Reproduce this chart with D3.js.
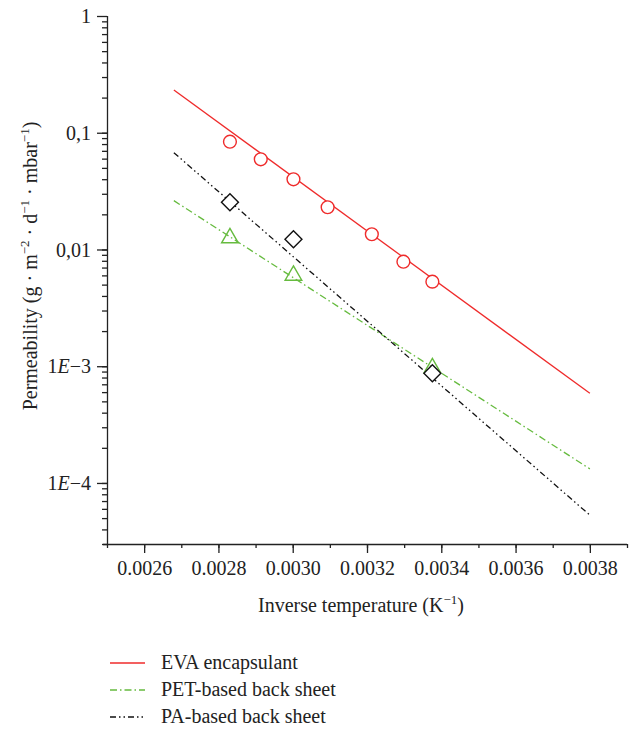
<!DOCTYPE html>
<html>
<head>
<meta charset="utf-8">
<script src="https://cdn.jsdelivr.net/npm/d3@7"></script>
<style>
  html, body { margin: 0; padding: 0; background: #fff; }
  svg text { font-family: "Liberation Serif", "DejaVu Serif", serif; fill: #222; }
</style>
</head>
<body>
<svg id="chart" width="632" height="729"></svg>
<script>
// Measured points (inverse temperature in 1/K, permeability in g·m^-2·d^-1·mbar^-1)
const evaX = [0.002831, 0.002914, 0.003002, 0.003094, 0.003213, 0.003298, 0.003376];
const evaP = [0.0838, 0.0592, 0.0399, 0.0230, 0.0135, 0.00786, 0.00530];
const petX = [0.002831, 0.003002, 0.003376];
const petP = [0.01254, 0.00599, 0.000965];
const paX  = [0.002831, 0.003002, 0.003376];
const paP  = [0.02536, 0.01223, 0.00087];

// Arrhenius fit lines, given by their end points
const fitX   = [0.00268, 0.0038];
const evaFit = [0.2324, 0.000586];
const petFit = [0.0262, 0.000132];
const paFit  = [0.0675, 0.000053];

// Axis ticks
const xTicks = [0.0026, 0.0028, 0.0030, 0.0032, 0.0034, 0.0036, 0.0038];
const xTickLabels = ["0.0026", "0.0028", "0.0030", "0.0032", "0.0034", "0.0036", "0.0038"];
const yTicks = [1e-4, 1e-3, 0.01, 0.1, 1];
const yTickLabels = ["1E\u22124", "1E\u22123", "0,01", "0,1", "1"];

const legendNames = ["EVA encapsulant", "PET-based back sheet", "PA-based back sheet"];

const RED = "#ef2b2b", GREEN = "#66bb3f", BLACK = "#111";

const svg = d3.select("#chart");
const plot = { left: 107, right: 627, top: 16, bottom: 544 };

const x = d3.scaleLinear().domain([0.0025, 0.0039]).range([plot.left, plot.right]);
const y = d3.scaleLog().domain([3e-5, 1]).range([plot.bottom, plot.top]);

// --- axes ---
const xMinor = d3.range(25, 40).map(k => k / 10000);
svg.append("g").attr("transform", `translate(0,${plot.bottom})`)
  .call(d3.axisBottom(x).tickValues(xMinor).tickSize(4).tickFormat(""))
  .call(g => g.select(".domain").remove());
svg.append("g").attr("transform", `translate(0,${plot.bottom})`)
  .call(d3.axisBottom(x).tickValues(xTicks).tickSize(9).tickPadding(8)
    .tickFormat((d, i) => xTickLabels[i]))
  .call(g => g.select(".domain").attr("d", `M${plot.left - 4},0.5H${plot.right}`))
  .call(g => g.selectAll("text").attr("font-size", 20).attr("fill", "#222")
    .attr("font-family", "Liberation Serif, serif"));

const yMinor = [];
for (let e = -5; e <= -1; e++) for (let m = 1; m <= 9; m++) {
  const v = m * Math.pow(10, e);
  if (v >= 3e-5 && v <= 1) yMinor.push(v);
}
svg.append("g").attr("transform", `translate(${plot.left},0)`)
  .call(d3.axisLeft(y).tickValues(yMinor).tickSize(5).tickFormat(""))
  .call(g => g.select(".domain").remove());
const yAxis = svg.append("g").attr("transform", `translate(${plot.left},0)`)
  .call(d3.axisLeft(y).tickValues(yTicks).tickSize(10).tickPadding(6).tickFormat(""))
  .call(g => g.select(".domain").attr("d", `M0.5,${plot.top}V${plot.bottom}`));
svg.selectAll(".tick line").attr("stroke", "#222").attr("stroke-width", 1.3);
svg.selectAll(".domain").attr("stroke", "#222").attr("stroke-width", 1.3);

// y tick labels with italic E
yAxis.selectAll(".tick").each(function (d, i) {
  const t = d3.select(this).append("text")
    .attr("x", -16).attr("dy", "0.33em")
    .attr("text-anchor", "end").attr("font-size", 20).attr("fill", "#222");
  const lab = yTickLabels[i];
  if (lab.includes("E")) {
    const [a, b] = lab.split("E");
    t.append("tspan").text(a);
    t.append("tspan").attr("font-style", "italic").text("E");
    t.append("tspan").text(b);
  } else {
    t.text(lab);
  }
});

// axis titles
const xt = svg.append("text").attr("x", 361).attr("y", 612)
  .attr("text-anchor", "middle").attr("font-size", 20);
xt.append("tspan").text("Inverse temperature (K");
xt.append("tspan").attr("font-size", 13).attr("dy", -8).text("\u22121");
xt.append("tspan").attr("dy", 8).text(")");

const yt = svg.append("text")
  .attr("transform", "translate(37,266) rotate(-90)")
  .attr("text-anchor", "middle").attr("font-size", 20);
const ySeg = [["Permeability (g \u00b7 m", "\u22122"], [" \u00b7 d", "\u22121"], [" \u00b7 mbar", "\u22121"], [")", null]];
ySeg.forEach(([base, sup], i) => {
  yt.append("tspan").attr("dy", i === 0 ? 0 : 8).text(base);
  if (sup) yt.append("tspan").attr("font-size", 13).attr("dy", -8).text(sup);
});

// --- fit lines ---
const line = d3.line().x(d => x(d[0])).y(d => y(d[1]));
const fits = [
  { v: evaFit, color: RED, dash: null },
  { v: petFit, color: GREEN, dash: "7,3,1.5,3" },
  { v: paFit, color: BLACK, dash: "6,3,1.5,3,1.5,3" }
];
fits.forEach(f => {
  svg.append("path").datum(fitX.map((xv, i) => [xv, f.v[i]]))
    .attr("d", line).attr("fill", "none")
    .attr("stroke", f.color).attr("stroke-width", 1.3)
    .attr("stroke-dasharray", f.dash);
});

// --- markers ---
svg.append("g").selectAll("circle")
  .data(evaX.map((xv, i) => [xv, evaP[i]])).join("circle")
  .attr("cx", d => x(d[0])).attr("cy", d => y(d[1])).attr("r", 6.4)
  .attr("fill", "white").attr("stroke", RED).attr("stroke-width", 1.4);

const tri = d3.symbol().type(d3.symbolTriangle).size(120);
svg.append("g").selectAll("path")
  .data(petX.map((xv, i) => [xv, petP[i]])).join("path")
  .attr("d", tri)
  .attr("transform", d => `translate(${x(d[0])},${y(d[1])})`)
  .attr("fill", "none").attr("stroke", GREEN).attr("stroke-width", 1.4);

svg.append("g").selectAll("rect")
  .data(paX.map((xv, i) => [xv, paP[i]])).join("rect")
  .attr("x", -6).attr("y", -6).attr("width", 12).attr("height", 12)
  .attr("transform", d => `translate(${x(d[0])},${y(d[1])}) rotate(45)`)
  .attr("fill", "white").attr("stroke", BLACK).attr("stroke-width", 1.4);

// --- legend ---
const legRows = [663, 690, 717];
fits.forEach((f, i) => {
  svg.append("line").attr("x1", 110).attr("x2", 145)
    .attr("y1", legRows[i]).attr("y2", legRows[i])
    .attr("stroke", f.color).attr("stroke-width", 1.3)
    .attr("stroke-dasharray", f.dash);
  svg.append("text").attr("x", 161).attr("y", legRows[i] + 5.5)
    .attr("font-size", 20).text(legendNames[i]);
});
</script>
</body>
</html>
